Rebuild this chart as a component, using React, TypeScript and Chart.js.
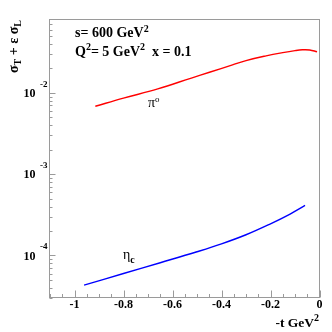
import React, { useEffect, useRef } from "react";
import { Chart, registerables } from "chart.js";

Chart.register(...registerables);

// ---- data ----
const tPi0 = [-0.915, -0.8, -0.66, -0.523, -0.449, -0.355, -0.3, -0.218, -0.15, -0.1, -0.07, -0.04, -0.01];
const sigmaPi0 = [0.00684, 0.00861, 0.01119, 0.01521, 0.01791, 0.02213, 0.02495, 0.02851, 0.03126, 0.03311, 0.03388, 0.03373, 0.03206];

const tEtaC = [-0.961, -0.8, -0.65, -0.5, -0.4, -0.3, -0.2, -0.12, -0.059];
const sigmaEtaC = [4.32e-5, 6.0e-5, 8.15e-5, 1.112e-4, 1.39e-4, 1.799e-4, 2.455e-4, 3.236e-4, 4.121e-4];

const xTickValues = [-1, -0.8, -0.6, -0.4, -0.2, 0];
const xTickLabels = ["-1", "-0.8", "-0.6", "-0.4", "-0.2", "0"];
const yDecades = [-2, -3, -4];

const X_MIN = -1.1;
const X_MAX = 0;
const Y_MIN = 3e-5;
const Y_MAX = 0.081;

const SERIF = '"Liberation Serif", "Times New Roman", serif';

type Part = { text: string; size: number; bold?: boolean; dy?: number; dx?: number };

function fontOf(p: Part) {
  return `${p.bold ? "bold " : ""}${p.size}px ${SERIF}`;
}

function drawParts(ctx: CanvasRenderingContext2D, parts: Part[], x: number, y: number, align: "left" | "right" | "center") {
  ctx.textAlign = "left";
  ctx.textBaseline = "alphabetic";
  const widths = parts.map((p) => {
    ctx.font = fontOf(p);
    return ctx.measureText(p.text).width + (p.dx || 0);
  });
  const total = widths.reduce((a, b) => a + b, 0);
  let cx = align === "left" ? x : align === "right" ? x - total : x - total / 2;
  parts.forEach((p, i) => {
    ctx.font = fontOf(p);
    ctx.fillText(p.text, cx + (p.dx || 0), y + (p.dy || 0));
    cx += widths[i];
  });
}

const rootStylePlugin = {
  id: "rootStyle",
  afterDraw(chart: any) {
    const ctx: CanvasRenderingContext2D = chart.ctx;
    const { left, right, top, bottom } = chart.chartArea;
    const xs = chart.scales.x;
    const ys = chart.scales.y;
    ctx.save();

    // frame
    ctx.strokeStyle = "#9a9a9a";
    ctx.lineWidth = 1;
    ctx.strokeRect(Math.round(left) - 0.5, Math.round(top) + 0.5, Math.round(right - left), Math.round(bottom - top) - 1);

    // x ticks
    ctx.beginPath();
    for (let i = -22; i <= 0; i++) {
      const v = i * 0.05;
      const px = Math.round(xs.getPixelForValue(v)) + 0.5;
      const major = i % 4 === 0;
      const len = major ? 7 : 3.5;
      ctx.moveTo(px, bottom - 0.5);
      ctx.lineTo(px, bottom - 0.5 - len);
    }
    // y ticks
    for (let d = -5; d <= -1; d++) {
      for (let m = 1; m <= 9; m++) {
        const v = m * Math.pow(10, d);
        if (v < Y_MIN || v > Y_MAX) continue;
        const py = Math.round(ys.getPixelForValue(v)) + 0.5;
        const len = m === 1 ? 6 : 3;
        ctx.moveTo(left - 0.5, py);
        ctx.lineTo(left - 0.5 + len, py);
      }
    }
    ctx.stroke();

    ctx.fillStyle = "#000";
    // x tick labels
    ctx.font = `bold 12px ${SERIF}`;
    ctx.textAlign = "center";
    ctx.textBaseline = "middle";
    xTickValues.forEach((v, i) => {
      ctx.fillText(xTickLabels[i], xs.getPixelForValue(v), bottom + 7);
    });

    // y tick labels
    yDecades.forEach((d) => {
      const py = ys.getPixelForValue(Math.pow(10, d));
      ctx.font = `bold 12px ${SERIF}`;
      ctx.textAlign = "right";
      ctx.textBaseline = "middle";
      ctx.fillText("10", 35.5, py + 1);
      ctx.font = `bold 9px ${SERIF}`;
      ctx.textAlign = "left";
      ctx.fillText(String(d), 40, py - 8.5);
    });

    // x title
    drawParts(
      ctx,
      [
        { text: "-t GeV", size: 13.5, bold: true },
        { text: "2", size: 10, bold: true, dy: -6 },
      ],
      319,
      327,
      "right"
    );

    // y title (rotated)
    ctx.save();
    ctx.translate(17.5, 20);
    ctx.rotate(-Math.PI / 2);
    drawParts(
      ctx,
      [
        { text: "σ", size: 14, bold: true },
        { text: "T", size: 10, bold: true, dy: 3 },
        { text: " + ε σ", size: 14, bold: true },
        { text: "L", size: 10, bold: true, dy: 3 },
      ],
      0,
      0,
      "right"
    );
    ctx.restore();

    // annotations
    drawParts(
      ctx,
      [
        { text: "s= 600 GeV", size: 14, bold: true },
        { text: "2", size: 10, bold: true, dy: -5.5 },
      ],
      75,
      37,
      "left"
    );
    drawParts(
      ctx,
      [
        { text: "Q", size: 14, bold: true },
        { text: "2", size: 10, bold: true, dy: -5.5 },
        { text: "= 5 GeV", size: 14, bold: true },
        { text: "2", size: 10, bold: true, dy: -5.5 },
        { text: "  x = 0.1", size: 14, bold: true },
      ],
      75,
      55.5,
      "left"
    );

    // curve labels
    drawParts(
      ctx,
      [
        { text: "π", size: 14 },
        { text: "o", size: 9, dy: -5 },
      ],
      148,
      107,
      "left"
    );
    drawParts(
      ctx,
      [
        { text: "η", size: 14 },
        { text: "c", size: 10, bold: true, dy: 4 },
      ],
      123,
      259,
      "left"
    );

    ctx.restore();
  },
};

export default function App() {
  const canvasRef = useRef<HTMLCanvasElement | null>(null);

  useEffect(() => {
    const canvas = canvasRef.current;
    if (!canvas) return;
    const chart = new Chart(canvas, {
      type: "line",
      data: {
        datasets: [
          {
            label: "π0",
            data: tPi0.map((t, i) => ({ x: t, y: sigmaPi0[i] })),
            borderColor: "#ff0000",
            borderWidth: 1.4,
            pointRadius: 0,
            tension: 0.4,
            fill: false,
          },
          {
            label: "ηc",
            data: tEtaC.map((t, i) => ({ x: t, y: sigmaEtaC[i] })),
            borderColor: "#0000ff",
            borderWidth: 1.4,
            pointRadius: 0,
            tension: 0.4,
            fill: false,
          },
        ],
      },
      options: {
        responsive: false,
        animation: false,
        events: [],
        layout: { padding: { left: 50, top: 19, right: 12.5, bottom: 34 } },
        plugins: {
          legend: { display: false },
          tooltip: { enabled: false },
        },
        scales: {
          x: { type: "linear", min: X_MIN, max: X_MAX, display: false },
          y: { type: "logarithmic", min: Y_MIN, max: Y_MAX, display: false },
        },
      },
      plugins: [rootStylePlugin],
    } as any);
    return () => chart.destroy();
  }, []);

  return (
    <div style={{ position: "fixed", left: 0, top: 0, width: 332, height: 332, background: "#fff" }}>
      <canvas ref={canvasRef} width={332} height={332} style={{ width: 332, height: 332, display: "block" }} />
    </div>
  );
}
